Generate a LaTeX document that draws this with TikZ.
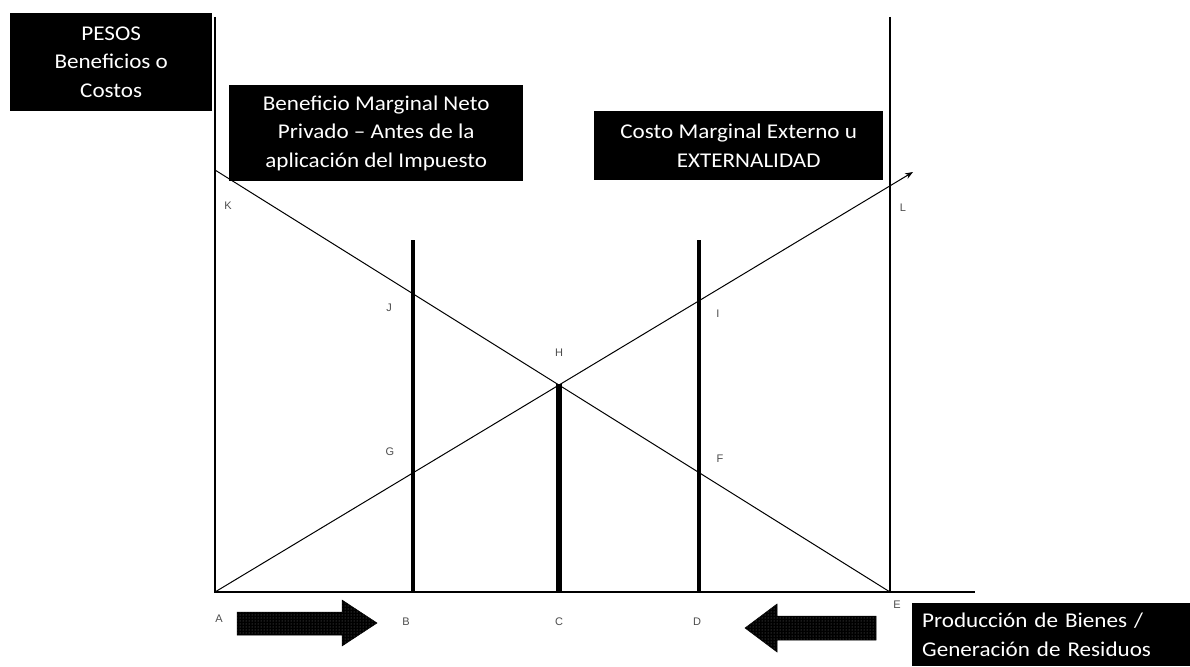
\documentclass[tikz,border=0pt]{standalone}
\usepackage{fontspec}
\setmainfont[FakeStretch=1.1]{Carlito}
\newfontfamily\lblfont{Liberation Sans}
\usetikzlibrary{patterns,arrows.meta}
\begin{document}
\begin{tikzpicture}[x=1pt,y=-1pt,
  blackbox/.style={fill=black,text=white,font=\fontsize{21}{28.5}\selectfont,align=center,inner sep=0pt,anchor=north west},
  lbl/.style={font=\lblfont\fontsize{11}{11}\selectfont,text=black!70,inner sep=0pt},
  axisline/.style={draw=black,line width=1.2pt},
  curve/.style={draw=black,line width=1pt},
  bar/.style={draw=black,line width=4pt},
  fatarrow/.style={preaction={fill=black},pattern=dots,pattern color=black!55,draw=black,line width=0.5pt}
]
\useasboundingbox (0,0) rectangle (1190,666);
% coordinates
\coordinate (A) at (215,592);
\coordinate (E) at (890,592);
\coordinate (topL) at (215,17);
\coordinate (topR) at (890,17);
\coordinate (axend) at (975,592);
\coordinate (K) at (215,170);
\coordinate (tip) at (913,172);
\coordinate (H) at (559,384);
\coordinate (Btop) at (413,240);
\coordinate (Bbot) at (413,592);
\coordinate (Dtop) at (699,240);
\coordinate (Dbot) at (699,592);
\coordinate (Cbot) at (559,592);
% axes
\draw[axisline] (topL) -- (A) -- (axend);
\draw[axisline] (topR) -- (E);
% curves
\draw[curve] (K) -- (E);
\draw[curve,-{Stealth[length=8pt,width=6pt]}] (A) -- (tip);
% bars
\draw[bar] (Btop) -- (Bbot);
\draw[bar] (Dtop) -- (Dbot);
\draw[bar,line width=6pt] (H) -- (Cbot);
% boxes
\node[blackbox,minimum width=202pt,minimum height=98pt] (pesos) at (10,13) {PESOS\\Beneficios o\\Costos};
\node[blackbox,minimum width=294pt,minimum height=96pt] (bmn) at (229,85) {Beneficio Marginal Neto\\Privado -- Antes de la\\aplicación del Impuesto};
\node[blackbox,minimum width=289pt,minimum height=69pt] (cme) at (594,111) {Costo Marginal Externo u\\\hspace*{20pt}EXTERNALIDAD};
\node[blackbox,align=left,text width=258pt,inner xsep=10pt,inner ysep=0pt,minimum height=63pt] (prod) at (912,603) {Producción de Bienes /\\Generación de Residuos};
% labels
\node[lbl] (lK) at (228,206) {K};
\node[lbl] (lJ) at (389,308) {J};
\node[lbl] (lG) at (390,452) {G};
\node[lbl] (lH) at (559,353) {H};
\node[lbl] (lI) at (718,314) {I};
\node[lbl] (lF) at (720,459) {F};
\node[lbl] (lL) at (903,208) {L};
\node[lbl] (lA) at (219,619) {A};
\node[lbl] (lB) at (406,622) {B};
\node[lbl] (lC) at (559,622) {C};
\node[lbl] (lD) at (697,622) {D};
\node[lbl] (lE) at (897,605) {E};
% fat arrows
\path[fatarrow] (237,612) -- (342,612) -- (342,600) -- (377,623) -- (342,646) -- (342,635) -- (237,635) -- cycle;
\path[fatarrow] (876,616) -- (777,616) -- (777,604) -- (745,628) -- (777,652) -- (777,640) -- (876,640) -- cycle;
\end{tikzpicture}
\end{document}
